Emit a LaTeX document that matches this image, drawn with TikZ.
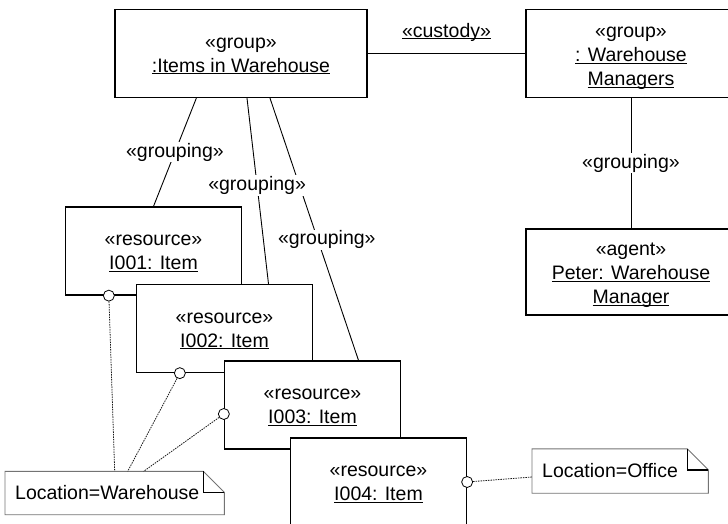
\documentclass[tikz,border=0pt]{standalone}
\usepackage{fontspec}
\setmainfont{Liberation Sans}
\newcommand{\ulname}[1]{%
    \leavevmode\setbox0\hbox{#1}%
    \rlap{\rule[-2.2pt]{\wd0}{0.9pt}}\box0}
\newcommand{\stereo}[2][15.5pt]{\rule{0pt}{#1}«#2»}

\begin{document}
\begin{tikzpicture}[
        x=1pt,
        y=-1pt,
        every node/.style={font=\fontsize{19.5}{24}\selectfont},
        objbox/.style={
            draw,
            line width=1.3pt,
            fill=white,
            align=center,
            minimum width=176,
            minimum height=88,
            inner sep=0pt
        },
        notebox/.style={
            align=left,
            inner xsep=10pt,
            inner ysep=0pt,
            anchor=west
        },
        port/.style={
            draw,
            circle,
            fill=white,
            line width=0.8pt,
            minimum size=11pt,
            inner sep=0pt
        },
        conn/.style={line width=0.9pt},
        attr/.style={
            line width=0.8pt,
            black!90,
            dash pattern=on 1.5pt off 1pt
        },
        lbl/.style={fill=white, inner sep=1pt}
    ]
        \useasboundingbox (0,0) rectangle (728,524);

        % Groups and the agent on the right
        \node[objbox, minimum width=252] (items) at (241,53.5)
            {\stereo{group}\\\ulname{:Items in Warehouse}};
        \node[objbox, minimum width=210] (managers) at (631,53.5)
            {\stereo[20pt]{group}\\\ulname{: Warehouse}\\\ulname{Managers}};
        \node[objbox, minimum width=210, minimum height=86] (peter) at (631,272)
            {\stereo[20pt]{agent}\\\ulname{Peter: Warehouse}\\\ulname{Manager}};

        % Stacked items, each one drawn over the one before it
        \node[objbox] (i001) at (153.5,251) {\stereo{resource}\\\ulname{I001: Item}};
        \node[objbox] (i002) at (224.5,328.5) {\stereo{resource}\\\ulname{I002: Item}};
        \node[objbox] (i003) at (312.5,405) {\stereo{resource}\\\ulname{I003: Item}};
        \node[objbox] (i004) at (378.5,482) {\stereo{resource}\\\ulname{I004: Item}};

        % Location notes
        \node[notebox, text width=199pt, minimum height=43] (whnote) at (5,493)
            {Location=Warehouse};
        \node[notebox, text width=156pt, minimum height=44] (offnote) at (532,471)
            {Location=Office};

        \foreach \n in {whnote,offnote} {
            \draw[black!55, line width=0.9pt]
                (\n.south west) -- (\n.north west)
                -- ([xshift=-21pt]\n.north east)
                -- ([yshift=-21pt]\n.north east)
                -- (\n.south east) -- cycle;
            \draw[line width=1.6pt]
                ([xshift=-21pt]\n.north east) |- ([yshift=-21pt]\n.north east);
        }

        % Links between the groups
        \draw[conn] (items.east) -- (managers.west)
            node[midway, yshift=21.5pt] {\ulname{«custody»}};
        \draw[conn] (managers.south) -- (peter.north)
            node[lbl, midway] {«grouping»};

        % Grouping links; the third goes first so the second label covers it
        \draw[conn] ([xshift=29pt]items.south) -- ([xshift=46pt]i003.north)
            node[lbl, pos=0.54, xshift=9pt] {«grouping»};
        \draw[conn] ([xshift=6pt]items.south) -- ([xshift=44pt]i002.north)
            node[lbl, pos=0.47] {«grouping»};
        \draw[conn] ([xshift=82pt]items.south west) -- (i001.north)
            node[lbl, midway] {«grouping»};

        % Attribute ports and their dotted links to the notes
        \node[port] (p001) at ([xshift=44pt]i001.south west) {};
        \node[port] (p002) at ([xshift=44pt]i002.south west) {};
        \node[port] (p003) at ([yshift=-9pt]i003.west) {};
        \node[port] (p004) at (i004.east) {};

        \draw[attr] (p001) -- (whnote.north);
        \draw[attr] (p002) -- ([xshift=13pt]whnote.north);
        \draw[attr] (p003) -- ([xshift=29pt]whnote.north);
        \draw[attr] (p004) -- ([yshift=-6pt]offnote.west);
    \end{tikzpicture}
\end{document}
